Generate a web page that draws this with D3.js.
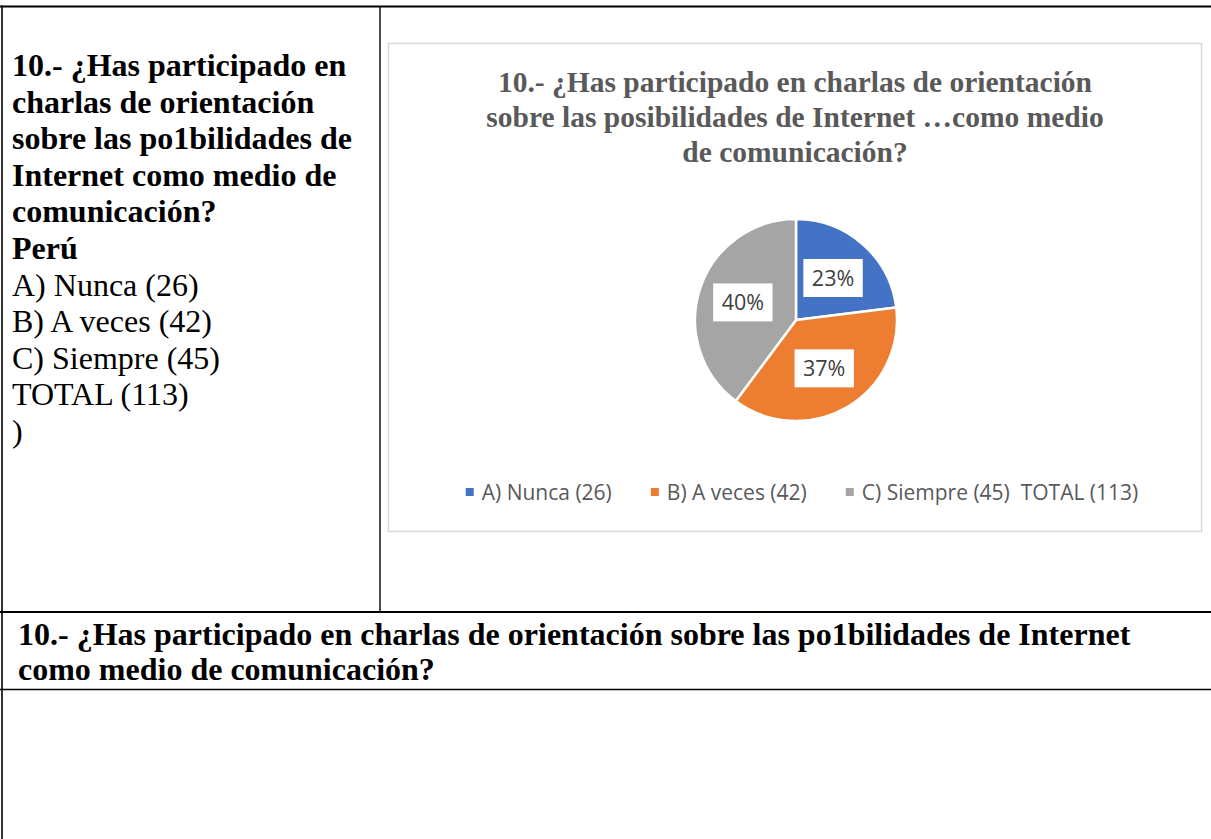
<!DOCTYPE html>
<html>
<head>
<meta charset="utf-8">
<script src="https://cdn.jsdelivr.net/npm/d3@7"></script>
<style>
  body { margin: 0; background: #fff; }
  svg { display: block; }
</style>
</head>
<body>
<svg id="chart" width="1211" height="839"></svg>
<script>
// Survey answers for question 10 (Perú)
const categories = ["A) Nunca (26)", "B) A veces (42)", "C) Siempre (45)  TOTAL (113)"];
const values = [26, 42, 45];
const colors = ["#4472C4", "#ED7D31", "#A5A5A5"];

const chartTitle = [
  "10.- ¿Has participado en charlas de orientación",
  "sobre las posibilidades de Internet …como medio",
  "de comunicación?"
];
const questionLines = [
  "10.- ¿Has participado en",
  "charlas de orientación",
  "sobre las po1bilidades de",
  "Internet como medio de",
  "comunicación?",
  "Perú"
];
const answerLines = ["A) Nunca (26)", "B) A veces (42)", "C) Siempre (45)", "TOTAL (113)", ")"];
const headingLines = [
  "10.- ¿Has participado en charlas de orientación sobre las po1bilidades de Internet",
  "como medio de comunicación?"
];

const svg = d3.select("#chart");
const W = 1211, H = 839;
const serif = "'Liberation Serif', 'Times New Roman', serif";
const sans = "'Open Sans', 'Noto Sans', sans-serif";

// ---- table grid ----
const grid = svg.append("g").attr("stroke", "#000").attr("fill", "none");
grid.append("line").attr("x1", 0).attr("x2", W).attr("y1", 6.5).attr("y2", 6.5).attr("stroke-width", 2.2);
grid.append("line").attr("x1", 2).attr("x2", 2).attr("y1", 5.5).attr("y2", H).attr("stroke-width", 1.6);
grid.append("line").attr("x1", 380).attr("x2", 380).attr("y1", 6).attr("y2", 612).attr("stroke-width", 1.4);
grid.append("line").attr("x1", 0).attr("x2", W).attr("y1", 612).attr("y2", 612).attr("stroke-width", 2.2);
grid.append("line").attr("x1", 0).attr("x2", W).attr("y1", 689.5).attr("y2", 689.5).attr("stroke-width", 1.6);

// ---- left cell text ----
const lineH = 36.6;
const leftText = svg.append("g").attr("font-family", serif).attr("font-size", 32).attr("fill", "#000");
leftText.selectAll("text.q").data(questionLines).join("text")
  .attr("class", "q")
  .attr("x", 12)
  .attr("y", (d, i) => 76 + i * lineH)
  .attr("font-weight", "bold")
  .text(d => d);
leftText.selectAll("text.a").data(answerLines).join("text")
  .attr("class", "a")
  .attr("x", 12)
  .attr("y", (d, i) => 76 + (questionLines.length + i) * lineH)
  .text(d => d);

// ---- heading row ----
svg.append("g").attr("font-family", serif).attr("font-size", 32).attr("font-weight", "bold")
  .selectAll("text").data(headingLines).join("text")
  .attr("x", 18)
  .attr("y", (d, i) => 645 + i * 35)
  .text(d => d);

// ---- chart area ----
const box = { x: 388.5, y: 43.5, w: 813, h: 488 };
svg.append("rect")
  .attr("x", box.x).attr("y", box.y).attr("width", box.w).attr("height", box.h)
  .attr("fill", "#fff").attr("stroke", "#D9D9D9").attr("stroke-width", 1.5);

const cx = box.x + box.w / 2;

svg.append("g").attr("font-family", serif).attr("font-size", 29.5).attr("font-weight", "bold")
  .attr("fill", "#595959").attr("text-anchor", "middle")
  .selectAll("text").data(chartTitle).join("text")
  .attr("x", cx)
  .attr("y", (d, i) => 92 + i * 35)
  .text(d => d);

// ---- pie ----
const pieCenter = [796, 320];
const radius = 101;
const total = d3.sum(values);
const pct = d3.format(".0%");

const pie = d3.pie().sort(null).value(d => d);
const arcs = pie(values);
const arc = d3.arc().innerRadius(0).outerRadius(radius);
const labelArc = d3.arc().innerRadius(56).outerRadius(56);

const gPie = svg.append("g").attr("transform", `translate(${pieCenter[0]},${pieCenter[1]})`);
gPie.selectAll("path").data(arcs).join("path")
  .attr("d", arc)
  .attr("fill", (d, i) => colors[i])
  .attr("stroke", "#fff")
  .attr("stroke-width", 2.5)
  .attr("stroke-linejoin", "round");

const labels = gPie.selectAll("g.lbl").data(arcs).join("g")
  .attr("class", "lbl")
  .attr("transform", d => `translate(${labelArc.centroid(d)})`);
labels.append("text")
  .attr("font-family", sans).attr("font-size", 21.5).attr("fill", "#404040")
  .attr("text-anchor", "middle").attr("dy", "0.36em")
  .text(d => pct(d.value / total));
labels.each(function () {
  const g = d3.select(this);
  const tw = g.select("text").node().getComputedTextLength();
  g.insert("rect", "text")
    .attr("x", -tw / 2 - 8.5).attr("y", -19)
    .attr("width", tw + 17).attr("height", 38)
    .attr("fill", "#fff");
});

// ---- legend ----
const legend = svg.append("g").attr("font-family", sans).attr("font-size", 21).attr("fill", "#595959");
const items = legend.selectAll("g").data(categories).join("g");
items.append("rect").attr("width", 8).attr("height", 8).attr("y", -12).attr("fill", (d, i) => colors[i]);
items.append("text").attr("x", 16).style("white-space", "pre").text(d => d);
const widths = [];
items.each(function () {
  widths.push(16 + d3.select(this).select("text").node().getComputedTextLength());
});
const gap = 39;
const legendW = d3.sum(widths) + gap * (widths.length - 1);
const start = 802 - legendW / 2;
items.attr("transform", (d, i) => {
  const x = start + d3.sum(widths.slice(0, i)) + gap * i;
  return `translate(${x},500)`;
});
</script>
</body>
</html>
